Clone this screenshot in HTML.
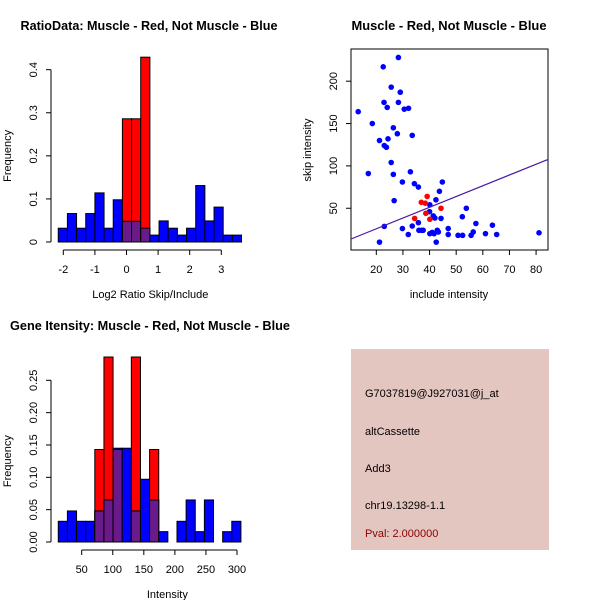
<!DOCTYPE html>
<html><head><meta charset="utf-8"><style>
html,body{margin:0;padding:0;background:#fff;}
svg{display:block;font-family:"Liberation Sans",Arial,sans-serif;}
</style></head><body>
<svg id="chart" width="600" height="600" viewBox="0 0 600 600">
<rect x="0" y="0" width="600" height="600" fill="#fff"/>
<text x="149" y="30" text-anchor="middle" font-size="13" font-weight="bold" textLength="257" lengthAdjust="spacingAndGlyphs">RatioData: Muscle - Red, Not Muscle - Blue</text>
<text x="449" y="30" text-anchor="middle" font-size="13" font-weight="bold" textLength="195" lengthAdjust="spacingAndGlyphs">Muscle - Red, Not Muscle - Blue</text>
<text x="150" y="330" text-anchor="middle" font-size="13" font-weight="bold" textLength="280" lengthAdjust="spacingAndGlyphs">Gene Itensity: Muscle - Red, Not Muscle - Blue</text>
<g id="p1"></g>
<g id="p2"></g>
<g id="p3"></g>
<g>
<rect x="351" y="349" width="198" height="201" fill="#e4c6c0"/>
<text x="365" y="397" font-size="11" fill="#000">G7037819@J927031@j_at</text>
<text x="365" y="435" font-size="11" fill="#000">altCassette</text>
<text x="365" y="472" font-size="11" fill="#000">Add3</text>
<text x="365" y="509" font-size="11" fill="#000">chr19.13298-1.1</text>
<text x="365" y="537" font-size="11" fill="#8b0000">Pval: 2.000000</text>
</g>
</svg>
<script>
var ratioStart = -2.16, ratioWidth = 0.29;
var ratioBlue = [0.032,0.066,0.032,0.066,0.114,0.032,0.098,0.048,0.048,0.032,0.016,0.049,0.032,0.016,0.032,0.131,0.049,0.081,0.016,0.016];
var ratioRed = [0,0,0,0,0,0,0,0.286,0.286,0.429,0,0,0,0,0,0,0,0,0,0];
var ratioXTicks = [-2,-1,0,1,2,3];
var ratioYTicks = [0,0.1,0.2,0.3,0.4];

var intStart = 12.3, intWidth = 14.7;
var intBlue = [0.032,0.048,0.032,0.032,0.048,0.065,0.145,0.145,0.048,0.097,0.065,0.016,0,0.032,0.065,0.016,0.065,0,0.016,0.032];
var intRed = [0,0,0,0,0.143,0.286,0.143,0,0.286,0,0.143,0,0,0,0,0,0,0,0,0];
var intXTicks = [50,100,150,200,250,300];
var intYTicks = [0,0.05,0.10,0.15,0.20,0.25];
var intYLabels = ["0.00","0.05","0.10","0.15","0.20","0.25"];

var blueX = [13.2,22.6,28.3,25.6,29,22.9,24.1,28.3,30.5,32.1,18.5,26.4,27.9,33.5,21.2,24.4,23,23.8,25.6,17,26.4,32.8,29.8,34.3,35.8,44.8,43.7,26.7,42.4,40.1,53.8,40,41.4,52.3,42,44.3,35.8,33.5,23,57.4,63.6,29.8,47,36,37,37.6,42.9,43.3,41,40.1,41.7,32,47,50.7,52.4,55.6,56.4,61,65.2,81.1,21.2,42.5];
var blueY = [164,217,228,193,187,175,169,175,167,168,150,145,138,136,130,132,124,122,104,91,90,93,81,79,75,81,70,59,60,54,50,46,41,40,38.5,38,33,29,28.6,32,30,26,26,24,24,24,24,22,21.5,20,20,19,19,18,18,18,22,20,19,21,10,10];
var redX = [39.1,36.9,38.4,38.6,44.3,34.4,40.1];
var redY = [64,57,56,44,50,38,37];
var fitIntercept = 0.36, fitSlope = 1.27;
var scatXTicks = [20,30,40,50,60,70,80];
var scatYTicks = [50,100,150,200];

var NS = "http://www.w3.org/2000/svg";
function mk(parent, tag, attrs, text) {
  var e = document.createElementNS(NS, tag);
  for (var k in attrs) e.setAttribute(k, attrs[k]);
  if (text !== undefined) e.textContent = text;
  parent.appendChild(e);
  return e;
}

function histogram(g, start, width, blue, red, sx, sy, xTicks, yTicks, yLabels, xAxisY, yAxisX, xTitle, xTitleY) {
  for (var i = 0; i < blue.length; i++) {
    var x0 = sx(start + i * width), x1 = sx(start + (i + 1) * width);
    var b = blue[i], r = red[i];
    if (b > 0) {
      var e = mk(g, "rect", {x: x0, y: sy(b), width: x1 - x0, height: sy(0) - sy(b), fill: "#0000ff", stroke: "#000", "stroke-width": 1});
      
      
    }
    if (r > 0) {
      var e2 = mk(g, "rect", {x: x0, y: sy(r), width: x1 - x0, height: sy(0) - sy(r), fill: "#ff0000", stroke: "#000", "stroke-width": 1});
      
      
      var m = Math.min(b, r);
      if (m > 0) {
        var e3 = mk(g, "rect", {x: x0, y: sy(m), width: x1 - x0, height: sy(0) - sy(m), fill: "#6a1a8a", stroke: "#000", "stroke-width": 1});
        
        
      }
    }
  }
  var ya = mk(g, "line", {x1: yAxisX, x2: yAxisX, y1: sy(yTicks[0]), y2: sy(yTicks[yTicks.length - 1]), stroke: "#000"});
  
  
  yTicks.forEach(function (t, i) {
    mk(g, "line", {x1: yAxisX - 5, x2: yAxisX, y1: sy(t), y2: sy(t), stroke: "#000"});
    var tx = mk(g, "text", {x: 0, y: 0, "font-size": 11, "text-anchor": "middle", transform: "translate(" + (yAxisX - 14) + "," + sy(t) + ") rotate(-90)"}, yLabels ? yLabels[i] : String(t));
    
    
  });
  var xa = mk(g, "line", {x1: sx(xTicks[0]), x2: sx(xTicks[xTicks.length - 1]), y1: xAxisY, y2: xAxisY, stroke: "#000"});
  
  
  xTicks.forEach(function (t) {
    mk(g, "line", {x1: sx(t), x2: sx(t), y1: xAxisY, y2: xAxisY + 5, stroke: "#000"});
    var tx = mk(g, "text", {x: sx(t), y: xAxisY + 23, "font-size": 11, "text-anchor": "middle"}, String(t));
    
    
  });
  var xt = mk(g, "text", {x: (sx(xTicks[0]) + sx(xTicks[xTicks.length - 1])) / 2 + 8, y: xTitleY, "font-size": 11, "text-anchor": "middle"}, xTitle);
  
  
  var yt = mk(g, "text", {x: 0, y: 0, "font-size": 11, "text-anchor": "middle", transform: "translate(11," + (sy(0) + sy(yTicks[yTicks.length - 1])) / 2 + ") rotate(-90)"}, "Frequency");
  
  
}

// Panel 1
(function () {
  var g = document.getElementById("p1");
  var sx = function (v) { return 63.3 + (v + 2) * 31.6; };
  var sy = function (v) { return 242 - v * 430.8; };
  histogram(g, ratioStart, ratioWidth, ratioBlue, ratioRed, sx, sy, ratioXTicks, ratioYTicks, null, 250, 51, "Log2 Ratio Skip/Include", 298);
})();

// Panel 3
(function () {
  var g = document.getElementById("p3");
  var sx = function (v) { return 81.7 + (v - 50) * 0.6212; };
  var sy = function (v) { return 542 - v * 646.8; };
  histogram(g, intStart, intWidth, intBlue, intRed, sx, sy, intXTicks, intYTicks, intYLabels, 550, 51, "Intensity", 598);
})();

// Panel 2 scatter
(function () {
  var g = document.getElementById("p2");
  var sx = function (v) { return 376.3 + (v - 20) * 2.663; };
  var sy = function (v) { return 250.6 - v * 0.847; };
  var box = mk(g, "rect", {x: 351, y: 49, width: 197, height: 201, fill: "none", stroke: "#000"});
  
  
  for (var i = 0; i < blueX.length; i++) {
    var c = mk(g, "circle", {cx: sx(blueX[i]), cy: sy(blueY[i]), r: 2.8, fill: "#0000ff"});
    
    
  }
  for (var j = 0; j < redX.length; j++) {
    var c2 = mk(g, "circle", {cx: sx(redX[j]), cy: sy(redY[j]), r: 2.8, fill: "#ff0000"});
    
    
  }
  var xa = 10.5, xb = 84.5;
  var ln = mk(g, "line", {x1: sx(xa), y1: sy(fitIntercept + fitSlope * xa), x2: sx(xb), y2: sy(fitIntercept + fitSlope * xb), stroke: "#4a1aa8", "stroke-width": 1.2});
  
  
  scatXTicks.forEach(function (t) {
    mk(g, "line", {x1: sx(t), x2: sx(t), y1: 250, y2: 255, stroke: "#000"});
    var tx = mk(g, "text", {x: sx(t), y: 273, "font-size": 11, "text-anchor": "middle"}, String(t));
    
    
  });
  scatYTicks.forEach(function (t) {
    mk(g, "line", {x1: 346, x2: 351, y1: sy(t), y2: sy(t), stroke: "#000"});
    var tx = mk(g, "text", {x: 0, y: 0, "font-size": 11, "text-anchor": "middle", transform: "translate(337," + sy(t) + ") rotate(-90)"}, String(t));
    
    
  });
  var xt = mk(g, "text", {x: 449, y: 298, "font-size": 11, "text-anchor": "middle"}, "include intensity");
  
  
  var yt = mk(g, "text", {x: 0, y: 0, "font-size": 11, "text-anchor": "middle", transform: "translate(311,150) rotate(-90)"}, "skip intensity");
  
  
})();
</script>
</body></html>
